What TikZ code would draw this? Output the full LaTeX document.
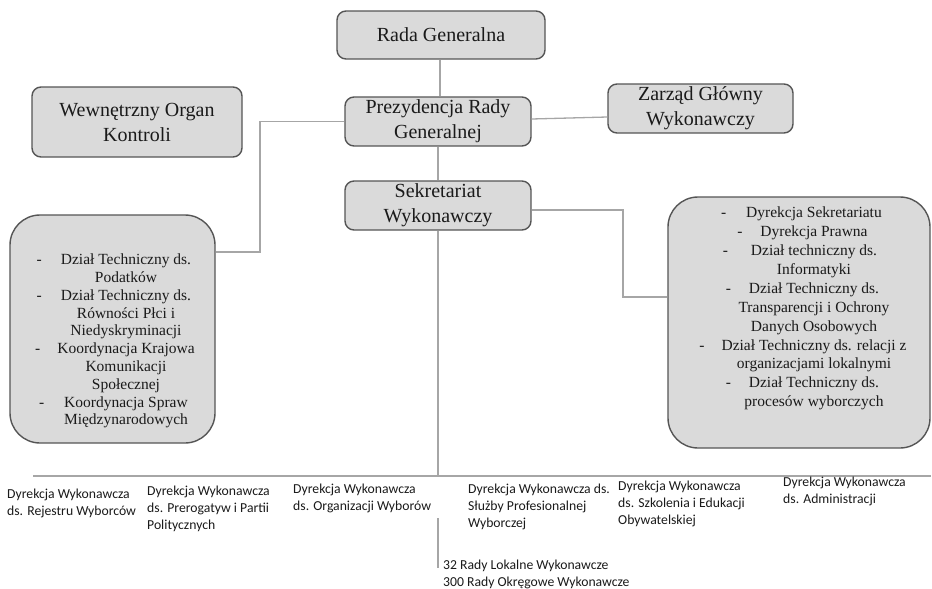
\documentclass[tikz,border=0pt]{standalone}
\usepackage{fontspec}
\setmainfont{Liberation Serif}
\newfontfamily\calibri{Carlito}
\definecolor{boxfill}{HTML}{DADADA}
\definecolor{boxdraw}{HTML}{555555}
\definecolor{connc}{HTML}{A6A6A6}
\definecolor{txt}{HTML}{1A1A1A}
\newcommand\dsh[1]{\leavevmode\llap{-\hspace{#1pt}}}
\begin{document}
\begin{tikzpicture}[x=1pt,y=-1pt,
  box/.style={draw=boxdraw, fill=boxfill, line width=1.4pt, rounded corners=9pt,
    inner sep=0pt, align=center, font=\fontsize{20}{25}\selectfont, text=txt},
  listbox/.style={draw=boxdraw, fill=boxfill, line width=1.4pt, rounded corners=30pt, inner sep=0pt},
  listtext/.style={align=center, font=\fontsize{15.5}{18.9}\selectfont, inner sep=0pt, text=txt},
  conn/.style={draw=connc, line width=1.3pt},
  dept/.style={align=left, font=\calibri\fontsize{13.7}{16.7}\selectfont, inner sep=0pt,
    anchor=north west, text=txt}]
\useasboundingbox (0,0) rectangle (932,589);

% boxes
\node[box, minimum width=208pt, minimum height=48pt] (rada) at (441,35) {Rada Generalna};
\node[box, minimum width=210pt, minimum height=70pt] (wok) at (137,122) {Wewnętrzny Organ\\Kontroli};
\node[box, minimum width=186pt, minimum height=49pt] (prez) at (438,121.5) {Prezydencja Rady\\Generalnej};
\node[box, minimum width=185pt, minimum height=49pt] (zarz) at (700.5,108.5) {Zarząd Główny\\Wykonawczy};
\node[box, minimum width=186pt, minimum height=49pt] (sekr) at (438,205.5) {Sekretariat\\Wykonawczy};

\node[listbox, minimum width=205pt, minimum height=228pt] (lbox) at (112.5,329) {};
\node[listbox, minimum width=262pt, minimum height=251pt] (rbox) at (799,322.5) {};

\node[listtext, font=\fontsize{15.5}{17.8}\selectfont] (ltext) at (126,341) {%
\dsh{19}Dział Techniczny ds.\\
Podatków\\
\dsh{19}Dział Techniczny ds.\\
Równości Płci i\\
Niedyskryminacji\\
\dsh{17}Koordynacja Krajowa\\
Komunikacji\\
Społecznej\\
\dsh{20}Koordynacja Spraw\\
Międzynarodowych};

\node[listtext] (rtext) at (814,308.5) {%
\dsh{20}Dyrekcja Sekretariatu\\
\dsh{18}Dyrekcja Prawna\\
\dsh{23}Dział techniczny ds.\\
Informatyki\\
\dsh{18}Dział Techniczny ds.\\
Transparencji i Ochrony\\
Danych Osobowych\\
\dsh{17}Dział Techniczny ds. relacji z\\
organizacjami lokalnymi\\
\dsh{18}Dział Techniczny ds.\\
procesów wyborczych};

% connectors
\coordinate (lj) at (260,252);
\coordinate (rj) at (623,297);
\coordinate (hl) at (33,476);
\coordinate (hr) at (931,476);
\coordinate (vt) at (438,518);
\coordinate (vb) at (438,568);

\draw[conn] (rada.south -| 440,0) -- (prez.north -| 440,0);
\draw[conn] (prez.south) -- (sekr.north);
\draw[conn] (prez.west) -| (lj) -- (lj -| lbox.east);
\draw[conn] (prez.east |- 0,119) -- (zarz.west |- 0,117);
\draw[conn] (sekr.east |- 0,210) -| (rj) -- (rj -| rbox.west);
\draw[conn] (sekr.south) -- (sekr.south |- hl);
\draw[conn] (hl) -- (hr);
\draw[conn] (vt) -- (vb);

% departments
\node[dept] (d1) at (7,489) {Dyrekcja Wykonawcza\\ds. Rejestru Wyborców};
\node[dept] (d2) at (147,486) {Dyrekcja Wykonawcza\\ds. Prerogatyw i Partii\\Politycznych};
\node[dept] (d3) at (293,484) {Dyrekcja Wykonawcza\\ds. Organizacji Wyborów};
\node[dept] (d4) at (468,484) {Dyrekcja Wykonawcza ds.\\Służby Profesionalnej\\Wyborczej};
\node[dept] (d5) at (618,481) {Dyrekcja Wykonawcza\\ds. Szkolenia i Edukacji\\Obywatelskiej};
\node[dept] (d6) at (783,477) {Dyrekcja Wykonawcza\\ds. Administracji};
\node[dept] (rady) at (443,560) {32 Rady Lokalne Wykonawcze\\300 Rady Okręgowe Wykonawcze};
\end{tikzpicture}
\end{document}
